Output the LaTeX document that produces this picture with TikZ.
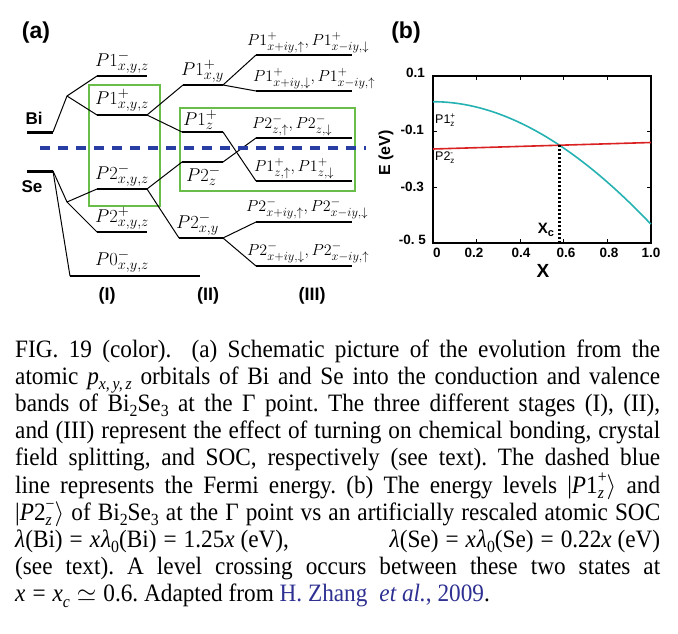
\RequirePackage{fix-cm}
\documentclass[tikz,border=0pt]{standalone}
\usepackage{fontspec}
\setsansfont{Liberation Sans}
\newfontfamily\capfont{Liberation Serif}[FakeStretch=0.93]
\usetikzlibrary{calc}
\DeclareMathSizes{18.5}{18.5}{14.5}{11}
\DeclareMathSizes{16}{16}{12.5}{9.5}
\DeclareMathSizes{25}{25}{17.5}{12.5}
\definecolor{gboxc}{RGB}{104,190,72}
\definecolor{fermic}{RGB}{40,62,165}
\definecolor{cyanc}{RGB}{38,178,178}
\definecolor{redc}{RGB}{218,32,32}
\definecolor{linkblue}{RGB}{46,49,146}
\newcommand\csub[1]{\raisebox{-0.22em}{\fontsize{17}{17}\selectfont #1}}
\newcommand\csup[1]{\raisebox{0.42em}{\fontsize{17}{17}\selectfont #1}}
\newcommand\supsub[2]{\hbox{\setbox0=\hbox{\csup{#1}}\setbox2=\hbox{\csub{#2}}\ifdim\wd0>\wd2 \rlap{\copy2}\box0\else\rlap{\copy0}\box2\fi}}
\newcommand\eqsign{\kern7pt=\kern7pt}
\newcommand\capl[2]{\node[capline] (#1) at (15,#2)}
\begin{document}
\frenchspacing
\begin{tikzpicture}[x=1pt,y=-1pt,
  level/.style={line width=1.1pt,black},
  atom/.style={line width=3pt,black},
  conn/.style={line width=1pt,black,line join=round},
  gbox/.style={draw=gboxc,line width=2.6pt},
  fermi/.style={draw=fermic,line width=3.6pt,dash pattern=on 10pt off 8pt},
  labL/.style={inner sep=0pt,font=\fontsize{18.5}{18.5}\selectfont},
  labR/.style={inner sep=0pt,font=\fontsize{16}{16}\selectfont},
  sflab/.style={inner sep=0pt,font=\sffamily\bfseries\fontsize{17}{17}\selectfont},
  panel/.style={inner sep=0pt,font=\sffamily\bfseries\fontsize{23}{23}\selectfont},
  stage/.style={inner sep=0pt,font=\sffamily\bfseries\fontsize{18}{18}\selectfont},
  ticklab/.style={inner sep=0pt,font=\sffamily\bfseries\fontsize{13.5}{13.5}\selectfont},
  plotlab/.style={inner sep=0pt,font=\sffamily\fontsize{12.5}{12.5}\selectfont},
  capline/.style={inner sep=0pt,anchor=base west,font=\capfont\fontsize{25}{25}\selectfont}]
\fill[white] (0,0) rectangle (678,634);
\path[use as bounding box] (0,0) rectangle (678,634);

% ---------- panel (a) ----------
\node[panel] (pa) at (36,33) {(a)};
\draw[gbox] (89,85) rectangle (160,206);
\draw[gbox] (180,108) rectangle (355,191);

\coordinate (bi-L) at (27,132); \coordinate (bi-R) at (53,132);
\coordinate (se-L) at (27,171); \coordinate (se-R) at (53,171);
\coordinate (bs) at (67,96); \coordinate (ss) at (67,202);
\coordinate (p1m-L) at (97,76);  \coordinate (p1m-R) at (147,76);
\coordinate (p1p-L) at (97,115); \coordinate (p1p-R) at (147,115);
\coordinate (p2m-L) at (97,189); \coordinate (p2m-R) at (147,189);
\coordinate (p2p-L) at (97,232); \coordinate (p2p-R) at (147,232);
\coordinate (p0-L) at (70,276);  \coordinate (p0-R) at (200,276);
\coordinate (p1xy-L) at (183,85);  \coordinate (p1xy-R) at (223,85);
\coordinate (p1z-L) at (182,132);  \coordinate (p1z-R) at (223,132);
\coordinate (p2z-L) at (182,162);  \coordinate (p2z-R) at (223,162);
\coordinate (p2xy-L) at (179,238); \coordinate (p2xy-R) at (223,238);
\coordinate (a-L) at (256,55);  \coordinate (a-R) at (352,55);
\coordinate (b-L) at (256,91);  \coordinate (b-R) at (352,91);
\coordinate (c-L) at (256,138); \coordinate (c-R) at (352,138);
\coordinate (d-L) at (256,181); \coordinate (d-R) at (352,181);
\coordinate (e-L) at (256,222); \coordinate (e-R) at (352,222);
\coordinate (f-L) at (256,266); \coordinate (f-R) at (352,266);

\draw[atom] (bi-L) -- (bi-R);
\draw[atom] (se-L) -- (se-R);
\foreach \n in {p1m,p1p,p2m,p2p,p0,p1xy,p1z,p2z,p2xy,a,b,c,d,e,f}
  \draw[level] (\n-L) -- (\n-R);

\draw[conn] (bi-R) -- (bs) -- (p1m-L);
\draw[conn] (bs) -- (p1p-L);
\draw[conn] (p1p-R) -- (p1xy-L);
\draw[conn] (p1p-R) -- (p1z-L);
\draw[conn] (p1xy-R) -- (a-L);
\draw[conn] (p1xy-R) -- (b-L);
\draw[conn] (p1z-R) -- (d-L);
\draw[conn] (p2z-R) -- (c-L);
\draw[conn] (se-R) -- (ss) -- (p2m-L);
\draw[conn] (ss) -- (p2p-L);
\draw[conn] (se-R) -- (p0-L);
\draw[conn] (p2m-R) -- (p2z-L);
\draw[conn] (p2m-R) -- (p2xy-L);
\draw[conn] (p2xy-R) -- (e-L);
\draw[conn] (p2xy-R) -- (f-L);

\coordinate (fermi-L) at (40,148); \coordinate (fermi-R) at (366,148);
\draw[fermi] (fermi-L) -- (fermi-R);

\node[sflab] (bilab) at (34,118) {Bi};
\node[sflab] (selab) at (32,187) {Se};

\node[labL,anchor=south west] (lp1m) at (95,74) {$P1^{-}_{x,y,z}$};
\node[labL,anchor=south west] (lp1p) at (95,112) {$P1^{+}_{x,y,z}$};
\node[labL,anchor=south west] (lp1xy) at (181,83) {$P1^{+}_{x,y}$};
\node[labL,anchor=south west] (lp1z) at (183,130) {$P1^{+}_{z}$};
\node[labL,anchor=north west] (lp2z) at (186,166) {$P2^{-}_{z}$};
\node[labL,anchor=south west] (lp2m) at (95,187) {$P2^{-}_{x,y,z}$};
\node[labL,anchor=south west] (lp2p) at (95,230) {$P2^{+}_{x,y,z}$};
\node[labL,anchor=south west] (lp0) at (95,273) {$P0^{-}_{x,y,z}$};
\node[labL,anchor=south west] (lp2xy) at (176,236) {$P2^{-}_{x,y}$};

\node[labR,anchor=south west] (la) at (247,53) {$P1^{+}_{x+iy,\uparrow}, P1^{+}_{x-iy,\downarrow}$};
\node[labR,anchor=south west] (lb) at (253,89) {$P1^{+}_{x+iy,\downarrow}, P1^{+}_{x-iy,\uparrow}$};
\node[labR,anchor=south west] (lc) at (252,136) {$P2^{-}_{z,\uparrow}, P2^{-}_{z,\downarrow}$};
\node[labR,anchor=south west] (ld) at (254,179) {$P1^{+}_{z,\uparrow}, P1^{+}_{z,\downarrow}$};
\node[labR,anchor=south west] (le) at (246,219) {$P2^{-}_{x+iy,\uparrow}, P2^{-}_{x-iy,\downarrow}$};
\node[labR,anchor=south west] (lf) at (247,263) {$P2^{-}_{x+iy,\downarrow}, P2^{-}_{x-iy,\uparrow}$};

\node[stage] (st1) at (107,296) {(I)};
\node[stage] (st2) at (208,296) {(II)};
\node[stage] (st3) at (312,296) {(III)};

% ---------- panel (b) ----------
\node[panel] (pb) at (406,33) {(b)};
\draw[line width=1.4pt] (433,76) rectangle (651,243);
\foreach \t in {476.6,520.2,563.8,607.4} {
  \draw[line width=1pt] (\t,76) -- (\t,80);
  \draw[line width=1pt] (\t,243) -- (\t,239);}
\foreach \t in {131.7,187.3} {
  \draw[line width=1pt] (433,\t) -- (437,\t);
  \draw[line width=1pt] (651,\t) -- (647,\t);}
\draw[cyanc,line width=1.6pt] plot[domain=0:1,samples=60] ({433+218*\x},{101.7+138.6*\x*\x-16*\x*\x*\x});
\draw[redc,line width=1.6pt] (433,149) -- (651,142.5);
\coordinate (cross) at (559.4,145.2);
\coordinate (crossB) at (559.4,243);
\draw[line width=2.6pt,dash pattern=on 2.2pt off 1.8pt] (cross) -- (crossB);

\node[ticklab,anchor=east] (y1) at (425,72.5) {0.1};
\node[ticklab,anchor=east] (y2) at (424,130) {-0.1};
\node[ticklab,anchor=east] (y3) at (424,187) {-0.3};
\node[ticklab,anchor=east] (y4) at (426,240) {-0. 5};
\node[ticklab] (x0) at (437,253) {0};
\node[ticklab] (x1) at (474,253) {0.2};
\node[ticklab] (x2) at (521,253) {0.4};
\node[ticklab] (x3) at (566,253) {0.6};
\node[ticklab] (x4) at (609,253) {0.8};
\node[ticklab] (x5) at (651,253) {1.0};
\node[inner sep=0pt,font=\sffamily\bfseries\fontsize{19}{19}\selectfont] (xlab) at (543,271) {X};
\node[inner sep=0pt,font=\sffamily\bfseries\fontsize{16}{16}\selectfont,rotate=90] (ylab) at (386,153) {E (eV)};
\node[inner sep=0pt,font=\sffamily\bfseries\fontsize{15}{15}\selectfont] (xc) at (546,230) {X\raisebox{-3pt}{\fontsize{11}{11}\selectfont c}};
\node[plotlab,anchor=west] (pl1) at (435,120) {P1\rlap{\raisebox{5pt}{\fontsize{8}{8}\selectfont +}}\raisebox{-3pt}{\fontsize{8}{8}\selectfont z}};
\node[plotlab,anchor=west] (pl2) at (435,158) {P2\rlap{\raisebox{5pt}{\fontsize{8}{8}\selectfont -}}\raisebox{-3pt}{\fontsize{8}{8}\selectfont z}};

% ---------- caption ----------
\capl{c1}{357}{\hbox to 645pt{FIG. 19 (color).\hskip 14pt plus 4pt (a) Schematic picture of the evolution from the}};
\capl{c2}{384.2}{\hbox to 645pt{atomic {\itshape p}\csub{\itshape x,\,y,\,z} orbitals of Bi and Se into the conduction and valence}};
\capl{c3}{411.4}{\hbox to 645pt{bands of Bi\csub{2}Se\csub{3} at the Γ point. The three different stages (I), (II),}};
\capl{c4}{438.6}{\hbox to 645pt{and (III) represent the effect of turning on chemical bonding, crystal}};
\capl{c5}{465.8}{\hbox to 645pt{field splitting, and SOC, respectively (see text). The dashed blue}};
\capl{c6}{493}{\hbox to 645pt{line represents the Fermi energy. (b) The energy levels |{\itshape P}1\supsub{+}{\itshape z}$\rangle$ and}};
\capl{c7}{520.2}{\hbox to 645pt{|{\itshape P}2\supsub{−}{\itshape z}$\rangle$ of Bi\csub{2}Se\csub{3} at the Γ point vs an artificially rescaled atomic SOC}};
\capl{c8}{547.4}{\hbox to 645pt{{\itshape λ}(Bi)\eqsign{\itshape x\kern1pt λ}\csub{0}(Bi)\eqsign 1.25{\itshape x} (eV),\hfill{\itshape λ}(Se)\eqsign{\itshape x\kern1pt λ}\csub{0}(Se)\eqsign 0.22{\itshape x} (eV)}};
\capl{c9}{574.6}{\hbox to 645pt{(see text). A level crossing occurs between these two states at}};
\capl{c10}{601.8}{{\itshape x}\eqsign{\itshape x}\csub{\itshape c}\kern7pt$\simeq$\kern7pt0.6. Adapted from \textcolor{linkblue}{H. Zhang\hskip 12pt{\itshape et al.}, 2009}.};
\end{tikzpicture}
\end{document}
